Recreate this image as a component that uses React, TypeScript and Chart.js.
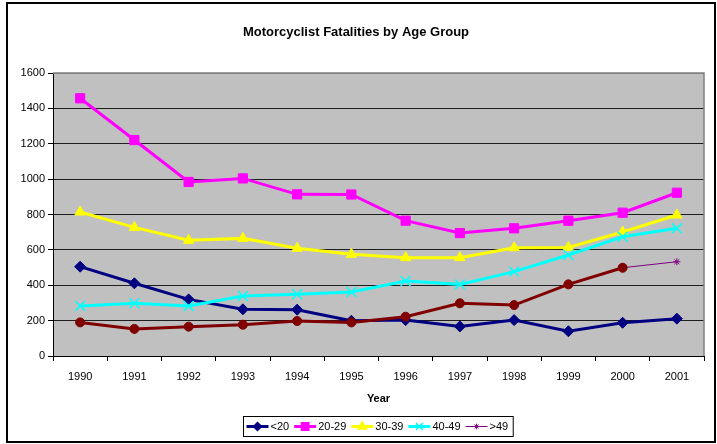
import React, { useEffect, useRef } from 'react';
import { Chart, registerables } from 'chart.js';
import { drawPoint } from 'chart.js/helpers';

Chart.register(...registerables);

const years = ['1990', '1991', '1992', '1993', '1994', '1995', '1996', '1997', '1998', '1999', '2000', '2001'];
const under20 = [505, 411, 320, 264, 262, 199, 203, 167, 203, 140, 188, 211];
const age20to29 = [1457, 1221, 984, 1004, 914, 913, 765, 695, 722, 765, 810, 923];
const age30to39 = [814, 727, 654, 665, 609, 575, 556, 556, 612, 614, 701, 797];
const age40to49 = [283, 298, 283, 339, 349, 362, 424, 405, 477, 571, 674, 722];
const over49 = [190, 153, 166, 177, 198, 190, 222, 298, 288, 405, 499, 533];
const seriesNames = ['<20', '20-29', '30-39', '40-49', '>49'];
const yTicks = [0, 200, 400, 600, 800, 1000, 1200, 1400, 1600];

const FONT = 'Arial, "Liberation Sans", sans-serif';

const legendStyles = [
  { color: '#000080', style: 'rectRot', radius: 5, width: 3 },
  { color: '#FF00FF', style: 'rect', radius: 6.5, width: 3 },
  { color: '#FFFF00', style: 'triangle', radius: 6, width: 3 },
  { color: '#00FFFF', style: 'crossRot', radius: 6, width: 3 },
  { color: '#800080', style: 'star', radius: 3.5, width: 1 },
];

const chromePlugin = {
  id: 'chrome',
  beforeDraw(chart: any) {
    const { ctx, chartArea: a } = chart;
    ctx.save();
    ctx.fillStyle = '#FFFFFF';
    ctx.fillRect(0, 0, chart.width, chart.height);
    ctx.fillStyle = '#C0C0C0';
    ctx.fillRect(a.left, a.top, a.right - a.left, a.bottom - a.top);
    ctx.restore();
  },
  beforeDatasetsDraw(chart: any) {
    const { ctx, chartArea: a } = chart;
    ctx.save();
    ctx.strokeStyle = '#808080';
    ctx.lineWidth = 1.5;
    ctx.beginPath();
    ctx.moveTo(a.left, a.top);
    ctx.lineTo(a.right, a.top);
    ctx.lineTo(a.right, a.bottom);
    ctx.stroke();
    ctx.restore();
  },
  afterDraw(chart: any) {
    const { ctx } = chart;
    ctx.save();
    // outer frame
    ctx.strokeStyle = '#000000';
    ctx.lineWidth = 2;
    ctx.strokeRect(7, 3, 708, 439);
    // legend
    ctx.font = `11px ${FONT}`;
    ctx.textBaseline = 'middle';
    const lineLen = 22;
    const gapAfterLine = 2;
    const gapAfterText = 5;
    let total = 3;
    const widths = seriesNames.map((n) => ctx.measureText(n).width);
    widths.forEach((w) => { total += lineLen + gapAfterLine + w + gapAfterText; });
    const cx = 378;
    const boxLeft = Math.round(cx - total / 2) + 0.5;
    const boxTop = 416.5;
    const boxH = 20;
    const cy = boxTop + boxH / 2;
    ctx.fillStyle = '#FFFFFF';
    ctx.fillRect(boxLeft, boxTop, total, boxH);
    ctx.strokeStyle = '#000000';
    ctx.lineWidth = 1;
    ctx.strokeRect(boxLeft, boxTop, total, boxH);
    let x = boxLeft + 3;
    seriesNames.forEach((name, i) => {
      const s = legendStyles[i];
      ctx.strokeStyle = s.color;
      ctx.fillStyle = s.color;
      ctx.lineWidth = s.width;
      ctx.beginPath();
      ctx.moveTo(x, cy);
      ctx.lineTo(x + lineLen, cy);
      ctx.stroke();
      ctx.lineWidth = i === 4 ? 1 : 1.5;
      drawPoint(ctx, { pointStyle: s.style, rotation: 0, radius: s.radius * 0.8, borderWidth: i === 4 ? 1 : 1.5 } as any, x + lineLen / 2, cy);
      ctx.fillStyle = '#000000';
      ctx.textAlign = 'left';
      ctx.fillText(name, x + lineLen + gapAfterLine, cy + 0.5);
      x += lineLen + gapAfterLine + widths[i] + gapAfterText;
    });
    ctx.restore();
  },
};

export default function App() {
  const canvasRef = useRef<HTMLCanvasElement | null>(null);

  useEffect(() => {
    if (!canvasRef.current) return;
    const n = years.length;
    const over49Styles = over49.map((_, i) => (i === n - 1 ? 'star' : 'circle'));
    const over49Colors = over49.map((_, i) => (i === n - 1 ? '#800080' : '#800000'));
    const over49Radius = over49.map((_, i) => (i === n - 1 ? 3.5 : 4.5));

    const chart = new Chart(canvasRef.current, {
      type: 'line',
      data: {
        labels: years,
        datasets: [
          {
            label: seriesNames[0],
            data: under20,
            borderColor: '#000080',
            backgroundColor: '#000080',
            borderWidth: 3,
            pointStyle: 'rectRot',
            pointRadius: 5.5,
            pointBorderWidth: 1,
            order: 5,
          },
          {
            label: seriesNames[1],
            data: age20to29,
            borderColor: '#FF00FF',
            backgroundColor: '#FF00FF',
            borderWidth: 3,
            pointStyle: 'rect',
            pointRadius: 6.5,
            pointBorderWidth: 1,
            order: 4,
          },
          {
            label: seriesNames[2],
            data: age30to39,
            borderColor: '#FFFF00',
            backgroundColor: '#FFFF00',
            borderWidth: 3,
            pointStyle: 'triangle',
            pointRadius: 6,
            pointBorderWidth: 1,
            order: 3,
          },
          {
            label: seriesNames[3],
            data: age40to49,
            borderColor: '#00FFFF',
            backgroundColor: '#00FFFF',
            borderWidth: 3,
            pointStyle: 'crossRot',
            pointRadius: 7,
            pointBorderWidth: 1.5,
            order: 2,
          },
          {
            label: seriesNames[4],
            data: over49,
            borderColor: '#800000',
            backgroundColor: '#800000',
            borderWidth: 3,
            pointStyle: over49Styles as any,
            pointRadius: over49Radius,
            pointBackgroundColor: over49Colors,
            pointBorderColor: over49Colors,
            pointBorderWidth: 1,
            segment: {
              borderColor: (ctx: any) => (ctx.p1DataIndex === n - 1 ? '#800080' : '#800000'),
              borderWidth: (ctx: any) => (ctx.p1DataIndex === n - 1 ? 1 : 3),
            } as any,
            order: 1,
          },
        ],
      },
      options: {
        animation: false,
        responsive: false,
        maintainAspectRatio: false,
        devicePixelRatio: 1,
        layout: { padding: { left: 8, right: 13, top: 0, bottom: 33 } },
        plugins: {
          legend: { display: false },
          tooltip: { enabled: false },
          title: {
            display: true,
            text: 'Motorcyclist Fatalities by Age Group',
            color: '#000000',
            font: { family: FONT, size: 13, weight: 'bold', lineHeight: 1.2 },
            padding: { top: 25, bottom: 32.4 },
          },
        },
        scales: {
          x: {
            type: 'category',
            offset: true,
            afterFit: (scale: any) => { scale.height = 55; },
            grid: {
              display: true,
              offset: true,
              drawOnChartArea: false,
              drawTicks: true,
              tickLength: 5,
              tickColor: '#000000',
              color: '#000000',
            },
            border: { display: true, color: '#000000', width: 1 },
            ticks: {
              color: '#000000',
              font: { family: FONT, size: 11 },
              padding: 9,
              maxRotation: 0,
              autoSkip: false,
            },
            title: {
              display: true,
              text: 'Year',
              color: '#000000',
              font: { family: FONT, size: 11, weight: 'bold', lineHeight: 1.2 },
              padding: { top: 0, bottom: 5 },
            },
          },
          y: {
            min: 0,
            max: 1600,
            afterFit: (scale: any) => { scale.width = 45; },
            afterBuildTicks: (scale: any) => { scale.ticks = yTicks.map((v) => ({ value: v })); },
            grid: {
              display: true,
              drawTicks: true,
              tickLength: 5,
              tickColor: '#000000',
              color: (ctx: any) => (ctx.tick && ctx.tick.value === 1600 ? '#808080' : '#1E1E1E'),
              lineWidth: 1,
            },
            border: { display: true, color: '#000000', width: 1 },
            ticks: {
              color: '#000000',
              font: { family: FONT, size: 11 },
              padding: 3,
              callback: (v: any) => String(v),
            },
          },
        },
      },
      plugins: [chromePlugin],
    });
    return () => chart.destroy();
  }, []);

  return (
    <div style={{ position: 'absolute', left: 0, top: 0, width: 717, height: 444 }}>
      <canvas ref={canvasRef} width={717} height={444} style={{ width: 717, height: 444, display: 'block' }} />
    </div>
  );
}
